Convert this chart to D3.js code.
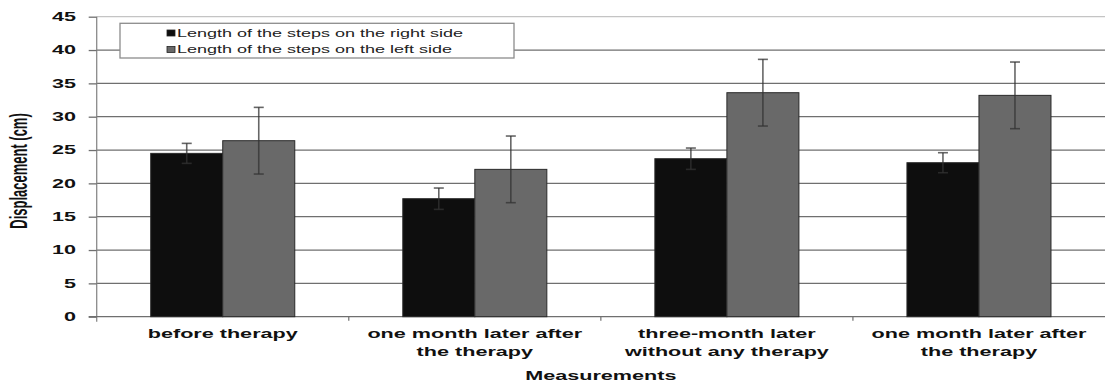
<!DOCTYPE html>
<html>
<head>
<meta charset="utf-8">
<script src="https://cdn.jsdelivr.net/npm/d3@7"></script>
<style>
  html, body { margin: 0; padding: 0; background: #fff; }
  svg { display: block; }
  text { font-family: "Liberation Sans", Arial, sans-serif; }
</style>
</head>
<body>
<svg id="chart" width="1105" height="385"></svg>
<script>
// ---- data ----
const categories = [
  ["before therapy"],
  ["one month later after", "the therapy"],
  ["three-month later", "without any therapy"],
  ["one month later after", "the therapy"]
];
const seriesNames = ["Length of the steps on the right side", "Length of the steps on the left side"];
const rightValues = [24.5, 17.7, 23.7, 23.1];
const rightErrors = [1.5, 1.6, 1.6, 1.5];
const leftValues  = [26.4, 22.1, 33.6, 33.2];
const leftErrors  = [5.0, 5.0, 5.0, 5.0];
const yTicks = [0, 5, 10, 15, 20, 25, 30, 35, 40, 45];
const yTitle = "Displacement (cm)";
const xTitle = "Measurements";

(function () {
// ---- layout ----
const pL = 96.7, pR = 1105, pT = 16.7, pB = 316.7;
const SX = 1.8; // horizontal text stretch of the original picture
const colors = ["#0e0e0e", "#696969"];

const svg = d3.select("#chart");
const catIdx = categories.map((d, i) => i);
const x0 = d3.scaleBand().domain(catIdx).range([pL, pR]).paddingInner(0).paddingOuter(0);
const x1 = d3.scaleBand().domain([0, 1]).range([0, x0.bandwidth()]).paddingInner(0).paddingOuter(0.75);
const y = d3.scaleLinear().domain([0, 45]).range([pB, pT]);

// gridlines
svg.append("g").selectAll("line").data(yTicks.filter(v => v > 0)).join("line")
  .attr("x1", pL).attr("x2", pR)
  .attr("y1", d => y(d)).attr("y2", d => y(d))
  .attr("stroke", d => d === 45 ? "#c4c4c4" : "#6f6f6f")
  .attr("stroke-width", 1.3);

// y axis
const yAxis = svg.append("g").attr("transform", `translate(${pL},0)`)
  .call(d3.axisLeft(y).tickValues(yTicks).tickSize(8).tickPadding(0));
yAxis.select(".domain").attr("stroke", "#8a8a8a").attr("stroke-width", 1.3)
  .attr("d", `M0,${y(45)}V${pB + 5}`);
yAxis.selectAll(".tick line").attr("stroke", "#6f6f6f").attr("stroke-width", 1.3);
yAxis.selectAll(".tick text")
  .attr("x", -20.7 / SX)
  .attr("transform", `scale(${SX},1)`)
  .attr("font-size", 12).attr("font-weight", "bold").attr("fill", "#111")
  .attr("font-family", "Liberation Sans, Arial, sans-serif");

// x axis line + ticks
const xAxis = svg.append("g").attr("transform", `translate(0,${pB})`);
xAxis.append("line").attr("x1", pL - 8).attr("x2", pR).attr("y1", 0).attr("y2", 0)
  .attr("stroke", "#6f6f6f").attr("stroke-width", 1.3);
xAxis.selectAll("line.tk").data(catIdx.slice(1)).join("line").attr("class", "tk")
  .attr("x1", d => x0(d)).attr("x2", d => x0(d)).attr("y1", 0).attr("y2", 4)
  .attr("stroke", "#6f6f6f").attr("stroke-width", 1.2);

// bars
const series = [
  { vals: rightValues, errs: rightErrors },
  { vals: leftValues, errs: leftErrors }
];
const groups = svg.append("g").selectAll("g").data(catIdx).join("g")
  .attr("transform", d => `translate(${x0(d)},0)`);
groups.selectAll("rect").data(i => series.map((s, k) => ({ k, v: s.vals[i], e: s.errs[i] }))).join("rect")
  .attr("x", d => x1(d.k)).attr("width", x1.bandwidth())
  .attr("y", d => y(d.v)).attr("height", d => y(0) - y(d.v))
  .attr("fill", d => colors[d.k]).attr("stroke", "#2a2a2a").attr("stroke-width", 1);

// error bars
const eb = groups.selectAll("g.err").data(i => series.map((s, k) => ({ k, v: s.vals[i], e: s.errs[i] }))).join("g")
  .attr("class", "err")
  .attr("transform", d => `translate(${x1(d.k) + x1.bandwidth() / 2},0)`)
  .attr("stroke", "#333").attr("stroke-opacity", 0.75).attr("stroke-width", 1.6);
eb.append("line").attr("x1", 0).attr("x2", 0).attr("y1", d => y(d.v + d.e)).attr("y2", d => y(d.v - d.e));
eb.append("line").attr("x1", -5).attr("x2", 5).attr("y1", d => y(d.v + d.e)).attr("y2", d => y(d.v + d.e));
eb.append("line").attr("x1", -5).attr("x2", 5).attr("y1", d => y(d.v - d.e)).attr("y2", d => y(d.v - d.e));

// x labels
const xl = svg.append("g").selectAll("g").data(catIdx).join("g")
  .attr("transform", d => `translate(${x0(d) + x0.bandwidth() / 2},0)`);
xl.selectAll("text").data(i => categories[i].map((t, j) => ({ t, j }))).join("text")
  .attr("transform", d => `translate(0,${338 + d.j * 18}) scale(${SX},1)`)
  .attr("text-anchor", "middle").attr("font-size", 12).attr("font-weight", "bold").attr("fill", "#111")
  .text(d => d.t);

// axis titles
svg.append("text")
  .attr("transform", `translate(${(pL + pR) / 2},380) scale(${SX},1)`)
  .attr("text-anchor", "middle").attr("font-size", 12).attr("font-weight", "bold").attr("fill", "#111")
  .text(xTitle);
svg.append("text")
  .attr("transform", `translate(27,171) scale(${SX},1) rotate(-90)`)
  .attr("text-anchor", "middle").attr("font-size", 13).attr("font-weight", "bold").attr("fill", "#111")
  .text(yTitle);

// legend
const lg = svg.append("g");
lg.append("rect").attr("x", 120).attr("y", 23.3).attr("width", 394).attr("height", 34.7)
  .attr("fill", "#fff").attr("stroke", "#8c8c8c").attr("stroke-width", 1.3);
const li = lg.selectAll("g").data(seriesNames.map((n, k) => ({ n, k }))).join("g")
  .attr("transform", d => `translate(167,${33 + d.k * 16.5})`);
li.append("rect").attr("x", 0).attr("y", -3).attr("width", 8).attr("height", 6)
  .attr("fill", d => colors[d.k]).attr("stroke", "#222").attr("stroke-width", 0.8);
li.append("text").attr("transform", `translate(10,3.6) scale(${SX},1)`)
  .attr("font-size", 10).attr("fill", "#222").text(d => d.n);
})();
</script>
</body>
</html>
